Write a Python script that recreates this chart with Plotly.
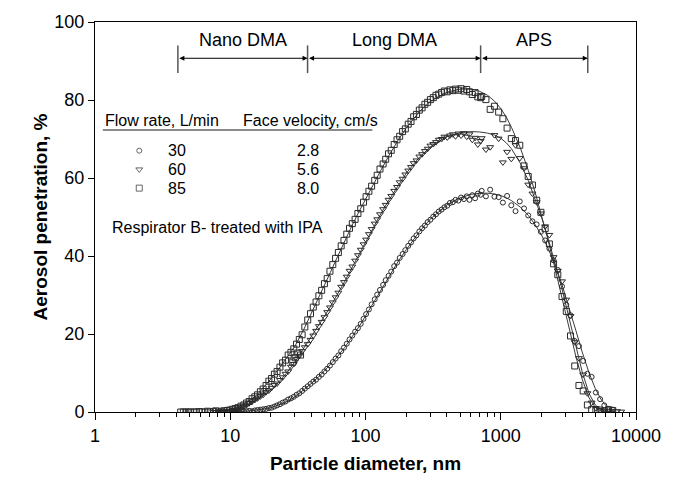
import math
import plotly.graph_objects as go

# ---------------- data ----------------
flow_rates = ["30", "60", "85"]
face_velocities = ["2.8", "5.6", "8.0"]

# 30 L/min (circles)
d30 = [8.2, 8.6, 9.0, 9.5, 9.9, 10.4, 10.9, 11.4, 12.0, 12.6, 13.2, 13.8, 14.5, 15.2, 15.9, 16.7, 17.5, 18.4, 19.3, 20.2,
       21.2, 22.2, 23.3, 24.4, 25.6, 26.8, 28.1, 29.5, 30.9, 32.4, 34.0,
       35.6, 37.4, 39.2, 41.1, 43.1, 45.2, 47.4, 49.7, 52.1, 54.6, 57.3, 60.1, 63.0, 66.1, 69.3, 72.7, 76.2, 79.9, 83.8,
       87.9, 92.2, 96.7, 101, 106, 111, 117, 122, 128, 135, 141, 148, 155, 163, 171, 179, 188, 197, 207, 217, 227, 238,
       250, 262, 275, 288, 302, 317, 332, 348, 365, 383, 402, 421, 442, 463, 486, 509, 534, 560, 587, 616, 646, 677, 710,
       723, 777, 835, 898, 965, 1037, 1114, 1197, 1286, 1382, 1486, 1596, 1715, 1843, 1981, 2129, 2288, 2458, 2642, 2839,
       3051, 3278, 3523, 3786, 4068, 4372, 4698, 5048, 5425, 5829, 6264, 6732]
p30 = [0, 0, 0, 0, 0, 0, 0.1, 0, 0.2, 0.1, 0.2, 0.3, 0.2, 0.4, 0.5, 0.6, 0.7, 0.8, 1.0, 1.1,
       1.4, 1.7, 2.0, 2.4, 2.7, 3.2, 3.5, 3.9, 4.4, 4.8, 5.4,
       6.0, 6.6, 7.2, 7.8, 8.3, 9.0, 9.6, 10.4, 11.1, 11.9, 12.8, 13.7, 14.5, 15.6, 16.5, 17.5, 18.6, 19.6, 20.6,
       21.5, 22.6, 23.9, 25.1, 26.3, 27.6, 28.9, 30.1, 31.3, 32.6, 33.8, 34.9, 36.0, 37.4, 38.3, 39.5, 40.5, 41.5, 42.6, 43.5, 44.5, 45.3,
       46.3, 47.1, 47.8, 48.7, 49.3, 50.1, 50.7, 51.4, 51.9, 52.5, 52.9, 53.6, 53.8, 54.4, 54.2, 55.0, 54.6, 55.3, 54.4, 55.6, 54.8, 56.0, 55.7,
       56.7, 55.3, 57.0, 55.2, 55.1, 53.7, 55.4, 53.0, 51.5, 54.0, 52.2, 50.4, 48.9, 48.1, 46.2, 44.0, 41.9, 38.9, 36.4, 32.2,
       27.5, 24.8, 18.2, 16.9, 13.1, 9.8, 9.0, 5.0, 3.3, 1.7, 0.8, 0.6]

# 60 L/min (triangles)
d60 = [7.5, 7.9, 8.2, 8.6, 9.0, 9.5, 9.9, 10.4, 10.9, 11.4, 12.0, 12.6, 13.2, 13.8, 14.5, 15.2, 15.9, 16.7, 17.5, 18.4,
       19.3, 20.2, 21.2, 22.2, 23.3, 24.4, 25.6, 26.8, 28.1, 29.5, 30.9, 32.4, 34.0,
       35.6, 37.4, 39.2, 41.1, 43.1, 45.2, 47.4, 49.7, 52.1, 54.6, 57.3, 60.1, 63.0, 66.1, 69.3, 72.7, 76.2, 79.9, 83.8,
       87.9, 92.2, 96.7, 101, 106, 111, 117, 122, 128, 135, 141, 148, 155, 163, 171, 179, 188, 197, 207, 217, 227, 238,
       250, 262, 275, 288, 302, 317, 332, 348, 365, 383, 402, 421, 442, 463, 486, 509, 534, 560, 587, 616, 646, 677, 710,
       723, 777, 835, 898, 965, 1037, 1114, 1197, 1286, 1382, 1486, 1596, 1715, 1843, 1981, 2129, 2288, 2458, 2642, 2839,
       3051, 3278, 3523, 3786, 4068, 4372, 4698, 5048, 5425, 5829, 6264, 6732, 7234, 7774]
p60 = [0, 0, 0, 0.1, 0, 0.2, 0.3, 0.5, 0.6, 0.9, 1.2, 1.5, 1.9, 2.3, 2.7, 3.1, 3.5, 4.0, 4.4, 5.1,
       5.5, 6.2, 6.9, 7.3, 8.2, 8.9, 9.8, 10.4, 11.6, 12.3, 13.6, 14.4, 15.6,
       16.6, 17.4, 18.5, 19.6, 20.8, 22.0, 23.1, 24.3, 25.6, 26.8, 28.1, 29.4, 30.6, 32.1, 33.3, 34.7, 36.2, 37.3, 38.8,
       40.2, 41.6, 43.0, 44.2, 45.6, 46.9, 48.3, 49.4, 50.7, 52.0, 53.1, 54.4, 55.4, 56.7, 57.7, 58.9, 59.8, 60.9, 61.9, 62.8, 63.8, 64.5,
       65.5, 66.1, 66.9, 67.5, 68.3, 68.7, 69.2, 69.8, 70.0, 70.6, 70.4, 70.9, 71.2, 70.7, 71.4, 70.9, 71.5, 70.6, 71.2, 69.8, 70.3, 68.6, 69.5,
       70.2, 67.3, 67.9, 71.0, 70.1, 64.0, 66.7, 64.9, 68.4, 65.1, 62.5, 58.3, 56.0, 53.8, 50.9, 47.6, 45.4, 39.7, 36.2, 33.5,
       28.8, 24.6, 17.9, 13.8, 9.6, 4.8, 2.4, 1.0, 0.5, 0.3, 0.2, 0.3, 0.2, 0.1]

# 85 L/min (squares)
d85 = [4.3, 4.5, 4.7, 4.9, 5.1, 5.4, 5.6, 5.9, 6.2, 6.5, 6.8, 7.1, 7.5, 7.8, 8.2, 8.6, 9.0, 9.5, 9.9,
       10.4, 10.9, 11.4, 12.0, 12.6, 13.2, 13.8, 14.5, 15.2, 15.9, 16.7, 17.5, 18.4, 19.3, 20.2, 21.2, 22.2, 23.3,
       24.4, 25.6, 26.8, 28.1, 29.5, 30.9, 32.4, 34.0, 29.0, 30.2, 31.6, 33.1,
       35.6, 37.4, 39.2, 41.1, 43.1, 45.2, 47.4, 49.7, 52.1, 54.6, 57.3, 60.1, 63.0, 66.1, 69.3, 72.7, 76.2, 79.9, 83.8,
       87.9, 92.2, 96.7, 101, 106, 111, 117, 122, 128, 135, 141, 148, 155, 163, 171, 179, 188, 197, 207, 217, 227, 238,
       250, 262, 275, 288, 302, 317, 332, 348, 365, 383, 402, 421, 442, 463, 486, 509, 534, 560, 587, 616, 646, 677, 710,
       723, 777, 835, 898, 965, 1037, 1114, 1197, 1286, 1382, 1486, 1596, 1715, 1843, 1981, 2129, 2288, 2458, 2642, 2839,
       3051, 3278, 3523, 3786, 4068, 4372, 4698, 5048, 5425, 5829, 6264, 6732]
p85 = [0, 0, 0, 0, 0, 0, 0, 0.1, 0, 0, 0.2, 0, 0.1, 0.3, 0, 0.2, 0.3, 0.4, 0.5,
       0.7, 0.9, 1.1, 1.5, 1.8, 2.3, 2.7, 3.4, 3.9, 4.4, 5.2, 5.9, 6.8, 7.9, 8.6, 9.7, 10.4, 11.5,
       12.6, 13.3, 14.6, 15.3, 16.2, 17.4, 18.6, 19.8, 12.8, 13.9, 15.1, 14.6,
       21.8, 23.6, 25.2, 26.9, 28.2, 29.8, 31.2, 32.9, 34.2, 36.1, 37.8, 39.4, 40.9, 42.6, 44.0, 45.6, 47.1, 48.3, 49.4,
       50.9, 52.1, 53.8, 55.2, 56.6, 57.9, 59.4, 60.7, 62.3, 63.6, 64.8, 66.2, 67.1, 68.6, 69.8, 70.7, 71.9, 72.6, 73.8, 74.5, 75.7, 76.3,
       77.4, 78.0, 78.9, 79.4, 80.1, 80.6, 81.2, 81.5, 81.9, 82.3, 82.1, 82.6, 82.4, 82.8, 82.5, 82.9, 82.3, 82.7, 82.1, 81.4, 81.9, 80.8, 80.6,
       80.9, 80.1, 77.6, 78.4, 76.9, 75.2, 72.8, 70.1, 69.6, 68.4, 63.1, 60.4, 58.2, 54.3, 51.2, 47.0, 43.1, 38.0, 35.2, 29.6,
       25.8, 19.5, 11.8, 6.8, 5.4, 1.8, 0.6, 0.4, 0.5, 0.3, 0.6, 0.4]

# fitted curves
fit_d = [8, 10, 12, 14, 16, 18, 20, 23, 26, 30, 35, 40, 45, 50, 55, 60, 70, 80, 90, 100, 115, 130, 150, 175, 200,
         250, 300, 400, 500, 600, 700, 800, 900, 1000, 1100, 1200, 1400, 1600, 1800, 2000, 2200, 2500, 2800, 3200,
         3600, 4000, 4500, 5000, 5500, 6000, 6500, 7000]
fit30 = [0, 0, 0.1, 0.3, 0.5, 0.8, 1.1, 1.8, 2.6, 3.8, 5.6, 7.4, 9.0, 10.6, 12.1, 13.6, 16.5, 19.3, 22.0, 24.6, 28.2,
         31.4, 35.0, 38.7, 41.6, 46.2, 49.4, 53.1, 54.9, 55.8, 56.1, 56.1, 55.9, 55.5, 54.9, 54.2, 52.5, 50.4, 48.0,
         45.4, 42.6, 38.0, 33.3, 26.9, 20.8, 15.4, 10.0, 6.0, 3.3, 1.6, 0.6, 0.1]
fit60 = [0.1, 0.5, 1.2, 2.1, 3.2, 4.4, 5.7, 7.8, 9.9, 12.8, 16.3, 19.4, 22.2, 24.7, 27.0, 29.2, 33.4, 37.2, 40.6, 43.6,
         47.5, 50.9, 54.5, 58.2, 61.2, 65.3, 67.9, 70.6, 71.6, 71.9, 71.8, 71.5, 71.0, 70.2, 69.0, 67.5, 63.7, 59.3,
         54.6, 50.0, 45.5, 38.9, 32.4, 24.1, 16.5, 10.3, 4.7, 1.8, 0.6, 0.2, 0.05, 0]
fit85 = [0, 0.5, 1.5, 3.0, 4.6, 6.6, 8.5, 11.2, 13.8, 16.8, 21.2, 25.4, 29.1, 32.5, 35.8, 38.7, 43.8, 48.0, 51.5, 54.6,
         58.6, 62.0, 65.9, 69.8, 72.8, 77.0, 79.6, 82.0, 82.8, 82.8, 82.2, 81.2, 79.7, 77.8, 75.6, 73.0, 67.6, 61.9,
         56.2, 50.5, 45.1, 37.3, 30.1, 21.5, 14.1, 8.4, 3.6, 1.2, 0.3, 0.05, 0, 0]

instrument_names = ["Nano DMA", "Long DMA", "APS"]
instrument_bounds = [4.1, 37.3, 710, 4400]

x_tick_vals = [1, 10, 100, 1000, 10000]
x_tick_text = ["1", "10", "100", "1000", "10000"]
y_tick_vals = [0, 20, 40, 60, 80, 100]

# ---------------- figure ----------------
FONT = "Liberation Sans, Arial, sans-serif"
MCOL = "#2a2a2a"
LCOL = "#3a3a3a"

fig = go.Figure()

for fp in [fit30, fit60, fit85]:
    fig.add_trace(go.Scatter(x=fit_d, y=fp, mode="lines", line=dict(color=LCOL, width=1),
                             showlegend=False, hoverinfo="skip"))

symbols = ["circle-open", "triangle-down-open", "square-open"]
sizes = [5, 6, 6]
series = [(d30, p30), (d60, p60), (d85, p85)]
for (dd, pp), sym, sz, name in zip(series, symbols, sizes, flow_rates):
    fig.add_trace(go.Scatter(x=dd, y=pp, mode="markers", name=name, showlegend=False,
                             marker=dict(symbol=sym, size=sz, color=MCOL, line=dict(width=1, color=MCOL))))

# legend key (drawn on an invisible unit overlay axis)
key_x = 0.0818
key_y = [0.670, 0.622, 0.574]
fig.add_trace(go.Scatter(x=[key_x] * 3, y=key_y, xaxis="x2", yaxis="y2", mode="markers",
                         showlegend=False, hoverinfo="skip",
                         marker=dict(symbol=symbols, size=sizes, color=MCOL, line=dict(width=1, color=MCOL))))

minor_vals = [m * 10 ** k for k in range(0, 4) for m in range(2, 10)]

fig.update_layout(
    width=673, height=483,
    margin=dict(l=95, r=28, t=18, b=68),
    paper_bgcolor="white", plot_bgcolor="white",
    font=dict(family=FONT, color="black", size=18),
    showlegend=False,
    xaxis=dict(type="log", range=[0, 4], tickvals=x_tick_vals, ticktext=x_tick_text,
               ticks="outside", ticklen=7, tickwidth=1, tickcolor="black",
               showline=True, linecolor="black", linewidth=1, mirror=True,
               showgrid=False, zeroline=False,
               minor=dict(tickvals=minor_vals, ticks="outside", ticklen=4, tickcolor="black", showgrid=False),
               tickfont=dict(size=18),
               title=dict(text="<b>Particle diameter, nm</b>", font=dict(size=19), standoff=12)),
    xaxis3=dict(type="log", range=[0, 4], overlaying="x", side="top", anchor="y",
                tickvals=x_tick_vals, ticks="outside", ticklen=7, tickwidth=1, tickcolor="black",
                showticklabels=False, showline=False, showgrid=False, zeroline=False,
                minor=dict(tickvals=minor_vals, ticks="outside", ticklen=4, tickcolor="black", showgrid=False)),
    yaxis=dict(range=[0, 100], tickvals=y_tick_vals, ticks="outside", ticklen=6, tickwidth=1,
               tickcolor="black", showline=True, linecolor="black", linewidth=1, mirror=True,
               showgrid=False, zeroline=False, tickfont=dict(size=18),
               title=dict(text="<b>Aerosol penetration, %</b>", font=dict(size=19), standoff=1)),
    xaxis2=dict(range=[0, 1], overlaying="x", visible=False, anchor="y2"),
    yaxis2=dict(range=[0, 1], overlaying="y", visible=False, anchor="x2"),
)

# instrument ranges
arrow_y = 90.7
for i, nm in enumerate(instrument_names):
    a, b = instrument_bounds[i], instrument_bounds[i + 1]
    la, lb = math.log10(a), math.log10(b)
    fig.add_annotation(x=lb, y=arrow_y, ax=la, ay=arrow_y, xref="x", yref="y", axref="x", ayref="y",
                       text="", showarrow=True, arrowhead=2, arrowsize=1, arrowwidth=1, arrowcolor="black",
                       arrowside="end+start", standoff=0, startstandoff=0)
    fig.add_annotation(x=(la + lb) / 2, y=95.5, xref="x", yref="y", text=nm, showarrow=False,
                       font=dict(size=18), xanchor="center", yanchor="middle")
for b in instrument_bounds:
    fig.add_shape(type="line", x0=b, x1=b, y0=86.9, y1=94.0, xref="x", yref="y",
                  line=dict(color="#555555", width=1.5))

# legend header and columns
fig.add_annotation(x=0.0145, y=0.748, xref="paper", yref="paper", text="Flow rate, L/min", showarrow=False,
                   xanchor="left", yanchor="middle", font=dict(size=16))
fig.add_annotation(x=0.269, y=0.748, xref="paper", yref="paper", text="Face velocity, cm/s", showarrow=False,
                   xanchor="left", yanchor="middle", font=dict(size=16))
fig.add_shape(type="line", x0=0.0145, x1=0.5127, y0=0.723, y1=0.723, xref="paper", yref="paper",
              line=dict(color="#666666", width=1.5))
for i, (fr, v) in enumerate(zip(flow_rates, face_velocities)):
    fig.add_annotation(x=0.131, y=key_y[i], xref="paper", yref="paper", text=fr, showarrow=False,
                       xanchor="left", yanchor="middle", font=dict(size=16))
    fig.add_annotation(x=0.3945, y=key_y[i], xref="paper", yref="paper", text=v, showarrow=False,
                       xanchor="center", yanchor="middle", font=dict(size=16))
fig.add_annotation(x=0.0273, y=0.4736, xref="paper", yref="paper", text="Respirator B- treated with IPA",
                   showarrow=False, xanchor="left", yanchor="middle", font=dict(size=16))

fig.write_html("out.html")
